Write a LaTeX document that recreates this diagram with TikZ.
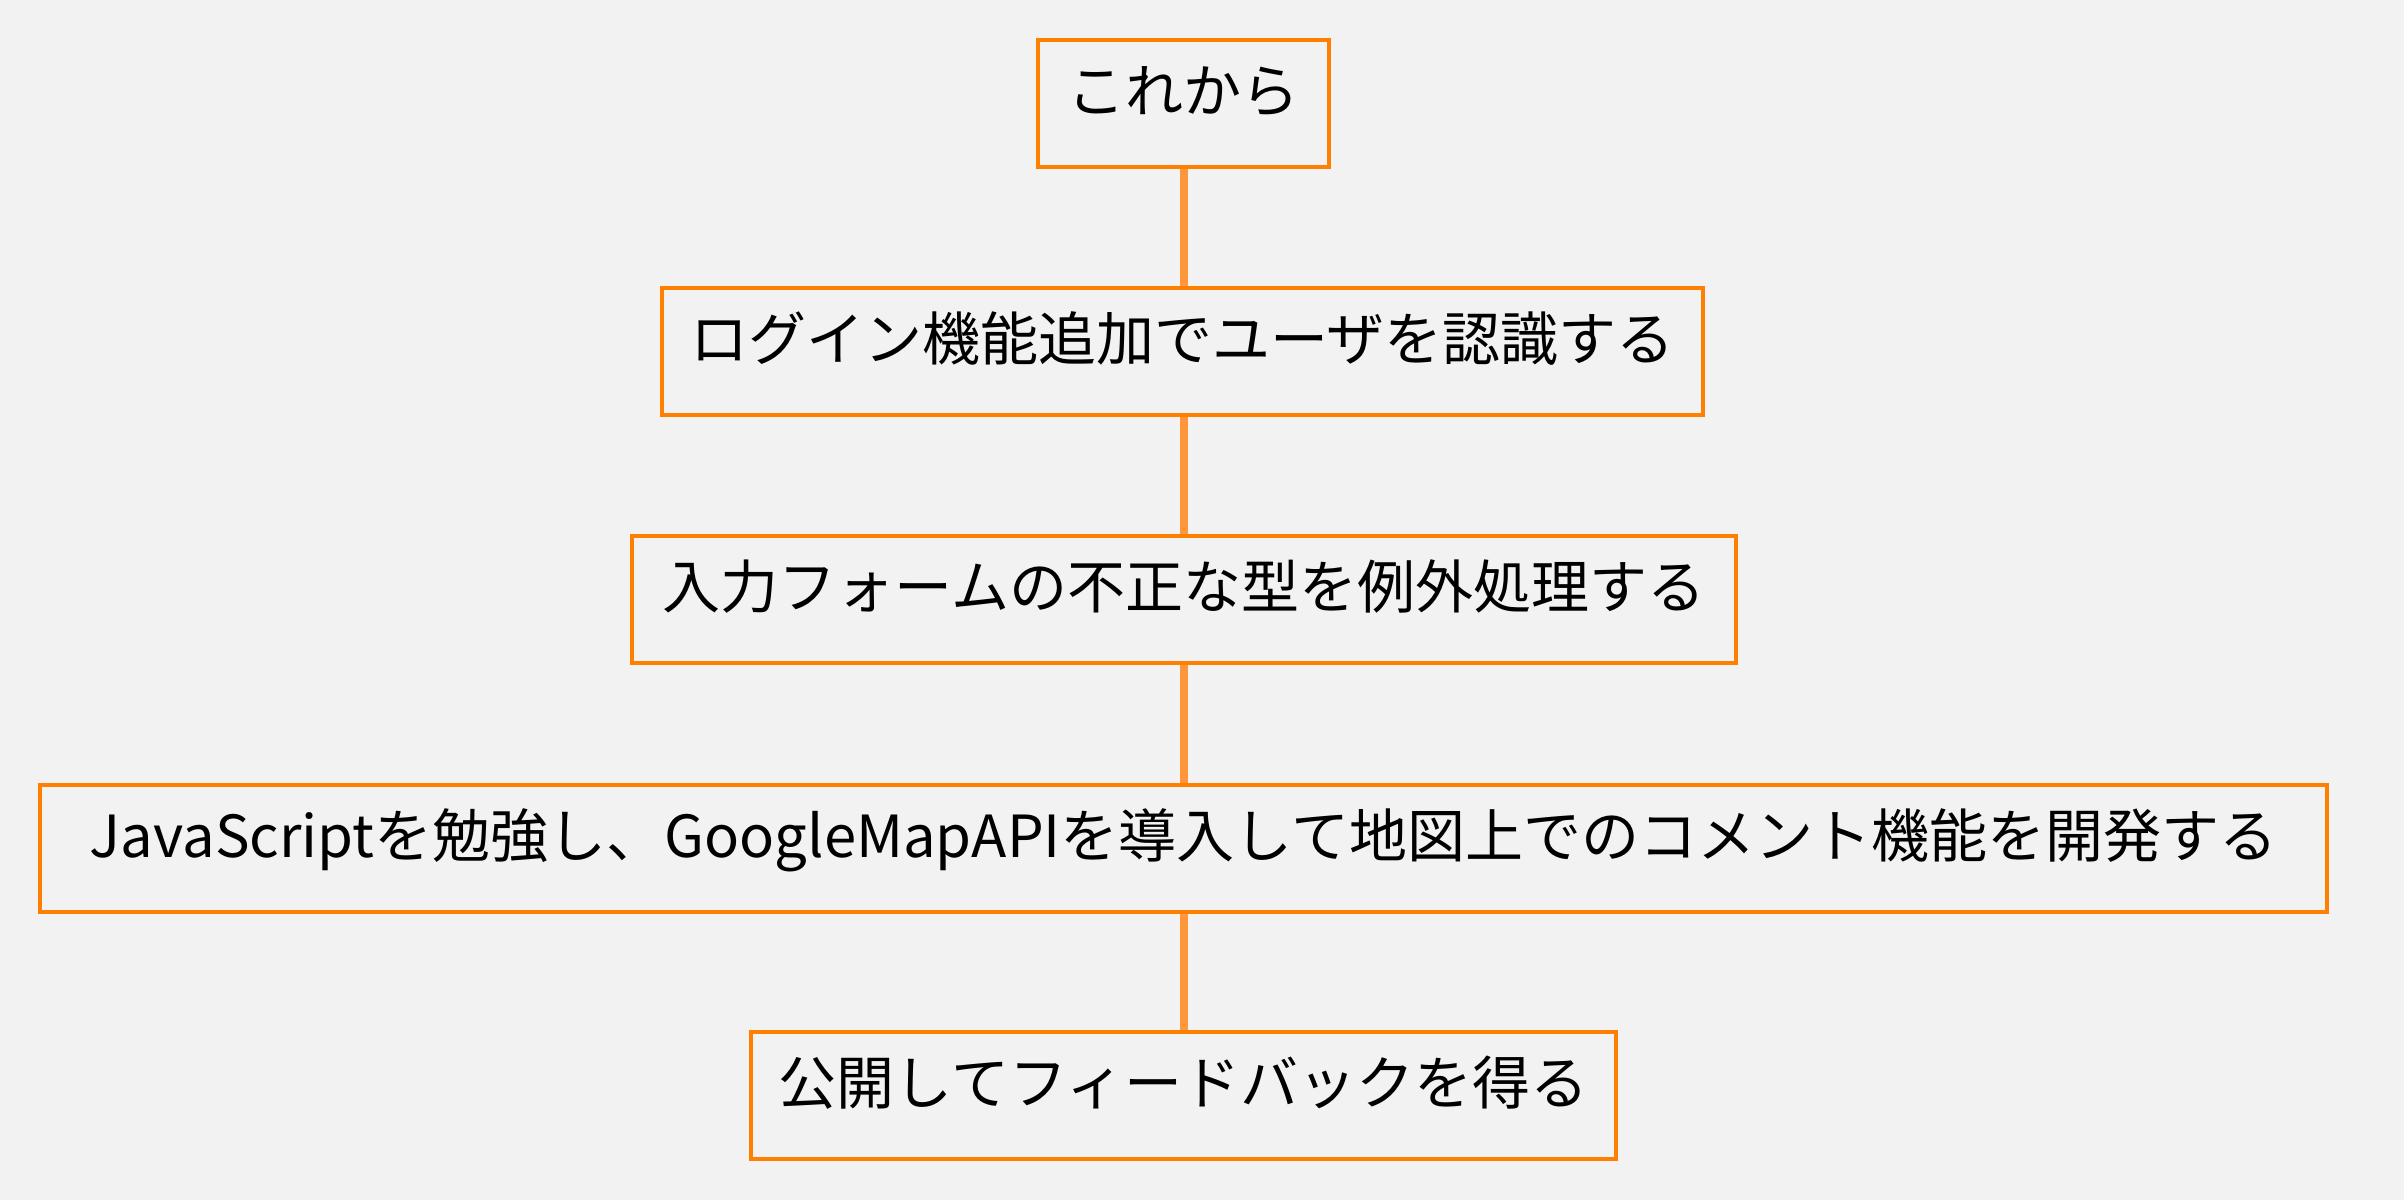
\documentclass[tikz,border=0pt]{standalone}
\usepackage{fontspec}
\setmainfont{Noto Sans CJK JP}
\definecolor{bg}{RGB}{242,242,242}
\definecolor{boxline}{RGB}{255,128,0}
\definecolor{conn}{RGB}{255,150,60}
\tikzset{
  stepbox/.style={draw=boxline, line width=2pt, inner sep=0pt,
    minimum height=63.5pt, text height=9pt, text depth=0pt,
    font=\fontsize{29pt}{34pt}\selectfont, text=black},
  connline/.style={draw=conn, line width=4pt}
}
\begin{document}
\begin{tikzpicture}[x=0.5pt,y=-0.5pt]
\fill[bg] (0,0) rectangle (2404,1200);
\useasboundingbox (0,0) rectangle (2404,1200);
\node[stepbox, minimum width=145.5pt] (b1) at (1183.5,103.5) {これから};
\node[stepbox, minimum width=520.5pt] (b2) at (1182.5,351) {ログイン機能追加でユーザを認識する};
\node[stepbox, minimum width=552pt] (b3) at (1184,599.5) {入力フォームの不正な型を例外処理する};
\node[stepbox, minimum width=1143.5pt] (b4) at (1183.5,848) {JavaScriptを勉強し、GoogleMapAPIを導入して地図上でのコメント機能を開発する};
\node[stepbox, minimum width=432.5pt] (b5) at (1183.5,1095.5) {公開してフィードバックを得る};
\draw[connline] (b1.south) -- (b1.south |- b2.north);
\draw[connline] (b1.south |- b2.south) -- (b1.south |- b3.north);
\draw[connline] (b1.south |- b3.south) -- (b1.south |- b4.north);
\draw[connline] (b1.south |- b4.south) -- (b1.south |- b5.north);
\end{tikzpicture}
\end{document}
